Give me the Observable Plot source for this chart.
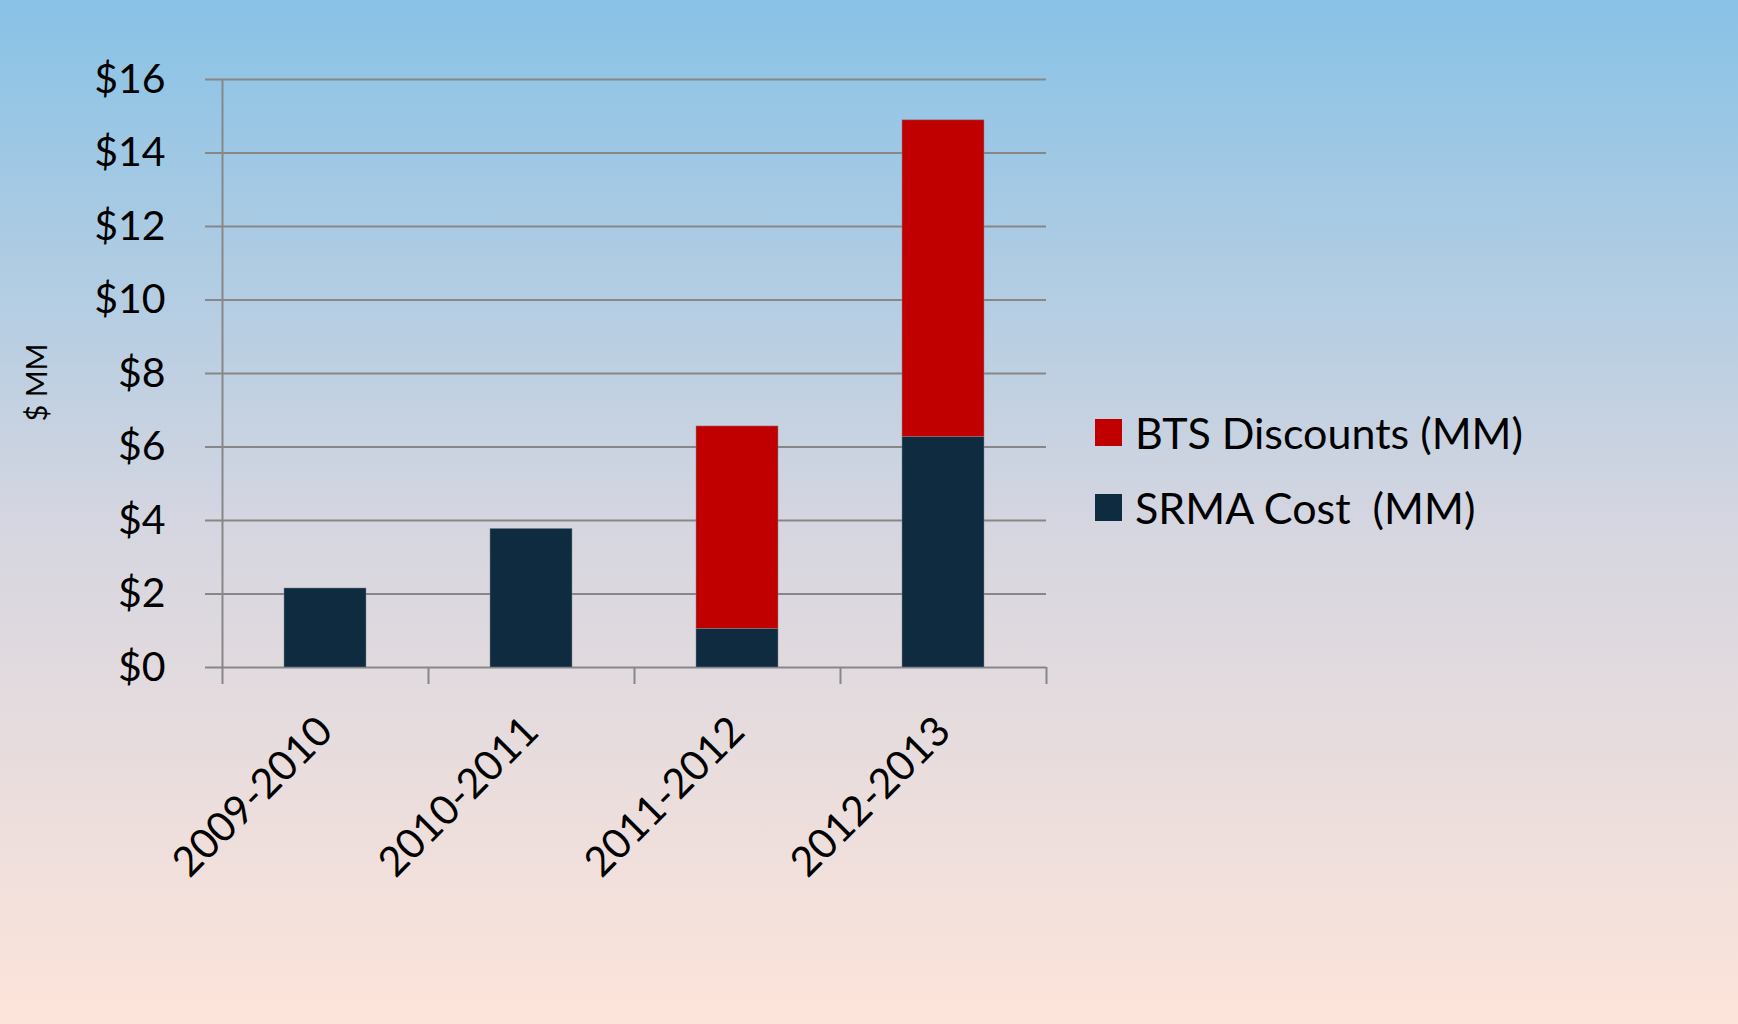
<!DOCTYPE html>
<html>
<head>
<meta charset="utf-8">
<script src="https://cdn.jsdelivr.net/npm/d3@7"></script>
<script src="https://cdn.jsdelivr.net/npm/@observablehq/plot@0.6"></script>
<style>
  html, body { margin: 0; padding: 0; }
  body {
    width: 1738px; height: 1024px; overflow: hidden; position: relative;
    background: linear-gradient(to bottom, #88C2E6 0%, #D6D6E0 52%, #FDE4DA 100%);
    font-family: Lato, "Noto Sans", sans-serif;
  }
  #chart { position: absolute; left: 0; top: 0; }
  #legend { position: absolute; left: 1095px; top: 405px; }
  .row { display: flex; align-items: center; height: 54px; margin-bottom: 21px; }
  .sw { width: 27px; height: 27px; margin-right: 13px; }
  .lbl { font-size: 43px; white-space: pre; color: #000; }
</style>
</head>
<body>
<div id="chart"></div>
<div id="legend"></div>
<script>
const categories = ["2009-2010", "2010-2011", "2011-2012", "2012-2013"];
const srmaCost = [2.15, 3.77, 1.05, 6.27];
const btsDiscounts = [0, 0, 5.51, 8.62];
const seriesNames = ["SRMA Cost  (MM)", "BTS Discounts (MM)"];
const seriesColors = ["#0F2B3F", "#C00000"];
const legendOrder = ["BTS Discounts (MM)", "SRMA Cost  (MM)"];
const yTicks = [0, 2, 4, 6, 8, 10, 12, 14, 16];
const yTitle = "$ MM";

const data = [];
categories.forEach((c, i) => {
  data.push({period: c, series: seriesNames[0], value: srmaCost[i]});
  data.push({period: c, series: seriesNames[1], value: btsDiscounts[i]});
});

const W = 1738, H = 1024, ml = 222, mr = 692, mt = 79, mb = 357;
const step = (W - ml - mr) / categories.length;
const gridColor = "#878787";

const chart = Plot.plot({
  width: W, height: H,
  marginLeft: ml, marginRight: mr, marginTop: mt, marginBottom: mb,
  style: {background: "transparent", fontFamily: "Lato, 'Noto Sans', sans-serif", overflow: "visible", color: "#000"},
  x: {domain: categories, paddingInner: 0.6, paddingOuter: 0.3, label: null},
  y: {domain: [0, 16], label: null},
  color: {domain: seriesNames, range: seriesColors},
  marks: [
    Plot.gridY(yTicks, {stroke: gridColor, strokeOpacity: 1, strokeWidth: 2}),
    Plot.axisY(yTicks, {tickSize: 17, tickPadding: 40, tickFormat: d => "$" + d, fontSize: 41, stroke: gridColor, strokeWidth: 2, label: null}),
    Plot.text([yTitle], {text: d => d, frameAnchor: "left", textAnchor: "middle", dx: -185, dy: 9, rotate: -90, fontSize: 29, fill: "#000"}),
    Plot.ruleX([categories[0]], {x: d => d, dx: -step / 2, y1: 16, y2: 0, insetBottom: -17, stroke: gridColor, strokeWidth: 2}),
    Plot.ruleX(categories.slice(1), {x: d => d, dx: -step / 2, y1: 0, y2: 0, insetBottom: -17, stroke: gridColor, strokeWidth: 2}),
    Plot.ruleX([categories[categories.length - 1]], {x: d => d, dx: step / 2, y1: 0, y2: 0, insetBottom: -17, stroke: gridColor, strokeWidth: 2}),
    Plot.barY(data, {x: "period", y: "value", fill: "series", order: seriesNames, stroke: "#7f8a94", strokeWidth: 0.8, strokeOpacity: 0.6}),
    Plot.axisX({tickSize: 0, tickRotate: -45, tickPadding: 57, fontSize: 41})
  ]
});
document.getElementById("chart").appendChild(chart);

const legend = document.getElementById("legend");
legendOrder.forEach(name => {
  const row = document.createElement("div");
  row.className = "row";
  const sw = document.createElement("div");
  sw.className = "sw";
  sw.style.background = seriesColors[seriesNames.indexOf(name)];
  const lbl = document.createElement("div");
  lbl.className = "lbl";
  lbl.textContent = name;
  row.appendChild(sw); row.appendChild(lbl);
  legend.appendChild(row);
});
</script>
</body>
</html>
